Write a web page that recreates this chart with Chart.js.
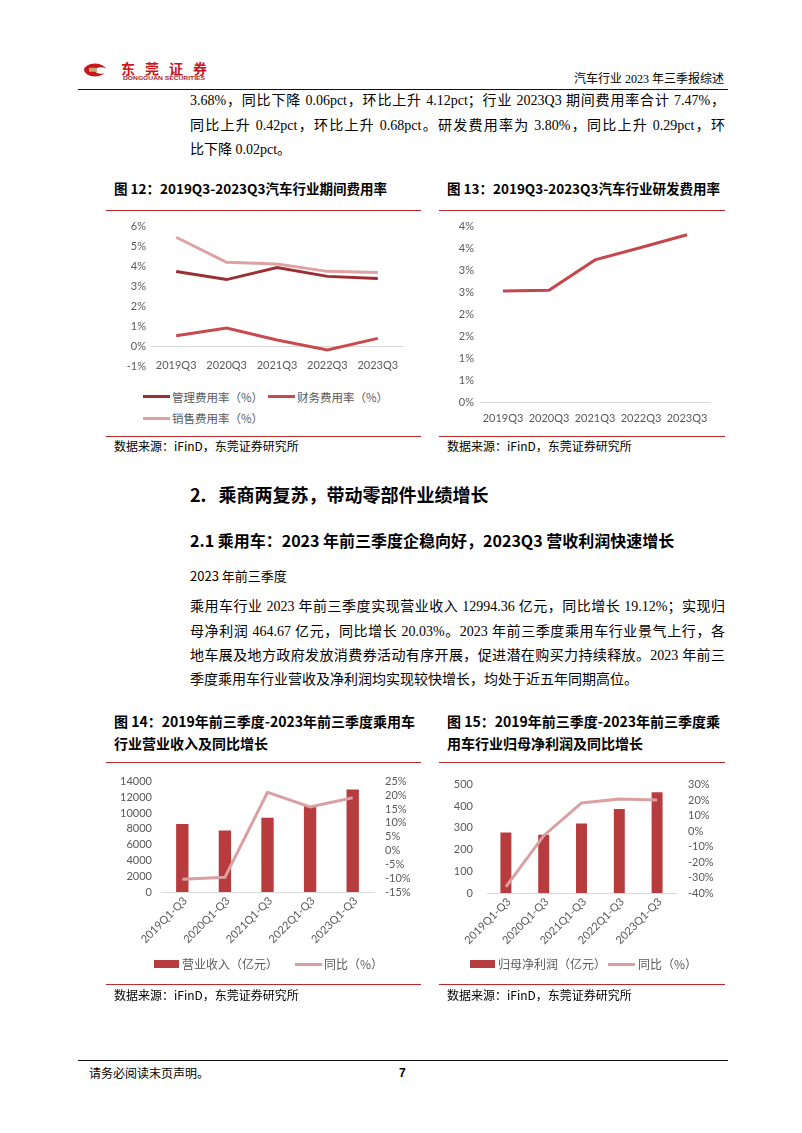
<!DOCTYPE html>
<html>
<head>
<meta charset="utf-8">
<script src="https://cdn.jsdelivr.net/npm/chart.js@4.4.0/dist/chart.umd.min.js"></script>
<style>
  body { margin: 0; background: #fff; }
  #page { position: relative; width: 802px; height: 1133px; overflow: hidden; color: #000;
          font-family: "Liberation Serif", "Noto Sans CJK SC", serif; }
  .abs { position: absolute; white-space: nowrap; }
  .line { left: 190px; width: 535px; font-size: 14px; line-height: 20px; }
  .just { text-align: justify; text-align-last: justify; }
  .cap { font-family: "Noto Sans CJK SC", sans-serif; font-weight: bold; font-size: 13.5px; line-height: 20px; }
  .src { font-family: "Noto Sans CJK SC", sans-serif; font-size: 12px; line-height: 16px; }
  .rule { position: absolute; height: 0; border-top: 1.5px solid #c0272d; }
  .blk { position: absolute; height: 0; border-top: 1.5px solid #111; }
  .leg { font-family: "Noto Sans CJK SC", sans-serif; font-size: 11.5px; line-height: 16px; color: #595959; }
  .sw { position: absolute; }
  canvas { position: absolute; }
</style>
</head>
<body>
<div id="page">

  <!-- header -->
  <svg class="abs" style="left:80px;top:58px" width="140" height="26">
    <ellipse cx="15" cy="12" rx="11" ry="6.5" fill="#c8161d"/>
    <ellipse cx="21" cy="12.5" rx="6" ry="3.2" fill="#fff"/>
    <rect x="9" y="9.8" width="8" height="4" fill="#c9a46c"/>
    <text x="41" y="16" font-family="Noto Sans CJK SC" font-weight="bold" font-size="14" fill="#c8161d"
          textLength="86" lengthAdjust="spacing">东莞证券</text>
    <text x="43" y="22" font-family="Liberation Sans" font-weight="bold" font-size="5" fill="#b0262b"
          textLength="82" lengthAdjust="spacingAndGlyphs">DONGGUAN SECURITIES</text>
  </svg>
  <div class="abs" style="right:78px;top:71px;font-size:12px;line-height:16px;">汽车行业 2023 年三季报综述</div>
  <div class="blk" style="left:78px;top:89px;width:650px;"></div>

  <!-- paragraph 1 -->
  <div class="abs line just" style="top:91px;">3.68%，同比下降 0.06pct，环比上升 4.12pct；行业 2023Q3 期间费用率合计 7.47%，</div>
  <div class="abs line just" style="top:116px;">同比上升 0.42pct，环比上升 0.68pct。研发费用率为 3.80%，同比上升 0.29pct，环</div>
  <div class="abs line" style="top:140px;">比下降 0.02pct。</div>

  <!-- figure 12 -->
  <div class="abs cap" style="left:114px;top:178px;">图 12：2019Q3-2023Q3汽车行业期间费用率</div>
  <div class="rule" style="left:106px;top:210px;width:315px;"></div>
  <canvas id="c12" width="315" height="163" style="left:106px;top:214px;"></canvas>
  <div class="sw" style="left:143px;top:395px;width:27px;height:3px;background:#9a2f33;"></div>
  <div class="abs leg" style="left:172px;top:389px;">管理费用率（%）</div>
  <div class="sw" style="left:268px;top:395px;width:27px;height:3px;background:#c84a4e;"></div>
  <div class="abs leg" style="left:297px;top:389px;">财务费用率（%）</div>
  <div class="sw" style="left:143px;top:417px;width:27px;height:3px;background:#dca2a4;"></div>
  <div class="abs leg" style="left:172px;top:410px;">销售费用率（%）</div>
  <div class="rule" style="left:106px;top:436px;width:315px;"></div>
  <div class="abs src" style="left:114px;top:438px;">数据来源：iFinD，东莞证券研究所</div>

  <!-- figure 13 -->
  <div class="abs cap" style="left:447px;top:178px;">图 13：2019Q3-2023Q3汽车行业研发费用率</div>
  <div class="rule" style="left:439px;top:210px;width:286px;"></div>
  <canvas id="c13" width="286" height="218" style="left:439px;top:214px;"></canvas>
  <div class="rule" style="left:439px;top:436px;width:286px;"></div>
  <div class="abs src" style="left:447px;top:438px;">数据来源：iFinD，东莞证券研究所</div>

  <!-- section -->
  <div class="abs cap" style="left:190px;top:483px;font-size:18px;line-height:22px;">2.<span style="margin-left:12px">乘商两复苏，带动零部件业绩增长</span></div>
  <div class="abs cap" style="left:190px;top:530px;font-size:16px;">2.1 乘用车：2023 年前三季度企稳向好，2023Q3 营收利润快速增长</div>
  <div class="abs" style="left:190px;top:566px;font-family:'Noto Sans CJK SC';font-size:13px;line-height:20px;">2023 年前三季度</div>

  <!-- paragraph 2 -->
  <div class="abs line just" style="top:597px;">乘用车行业 2023 年前三季度实现营业收入 12994.36 亿元，同比增长 19.12%；实现归</div>
  <div class="abs line just" style="top:622px;">母净利润 464.67 亿元，同比增长 20.03%。2023 年前三季度乘用车行业景气上行，各</div>
  <div class="abs line just" style="top:646px;">地车展及地方政府发放消费券活动有序开展，促进潜在购买力持续释放。2023 年前三</div>
  <div class="abs line" style="top:670px;">季度乘用车行业营收及净利润均实现较快增长，均处于近五年同期高位。</div>

  <!-- figure 14 -->
  <div class="abs cap" style="left:114px;top:710px;line-height:22px;font-size:14px;">图 14：2019年前三季度-2023年前三季度乘用车<br>行业营业收入及同比增长</div>
  <div class="rule" style="left:106px;top:762px;width:315px;"></div>
  <canvas id="c14" width="314" height="195" style="left:106px;top:765px;"></canvas>
  <div class="sw" style="left:154px;top:960px;width:25px;height:8px;background:#b83c3e;"></div>
  <div class="abs leg" style="left:182px;top:956px;font-size:12px;">营业收入（亿元）</div>
  <div class="sw" style="left:295px;top:963px;width:27px;height:3px;background:#daa0a1;"></div>
  <div class="abs leg" style="left:324px;top:956px;font-size:12px;">同比（%）</div>
  <div class="rule" style="left:106px;top:984px;width:315px;"></div>
  <div class="abs src" style="left:114px;top:987px;">数据来源：iFinD，东莞证券研究所</div>

  <!-- figure 15 -->
  <div class="abs cap" style="left:447px;top:710px;line-height:22px;font-size:14px;">图 15：2019年前三季度-2023年前三季度乘<br>用车行业归母净利润及同比增长</div>
  <div class="rule" style="left:439px;top:762px;width:286px;"></div>
  <canvas id="c15" width="286" height="195" style="left:439px;top:765px;"></canvas>
  <div class="sw" style="left:470px;top:960px;width:25px;height:8px;background:#b83c3e;"></div>
  <div class="abs leg" style="left:498px;top:956px;font-size:12px;">归母净利润（亿元）</div>
  <div class="sw" style="left:608px;top:963px;width:27px;height:3px;background:#daa0a1;"></div>
  <div class="abs leg" style="left:638px;top:956px;font-size:12px;">同比（%）</div>
  <div class="rule" style="left:439px;top:984px;width:286px;"></div>
  <div class="abs src" style="left:447px;top:987px;">数据来源：iFinD，东莞证券研究所</div>

  <!-- footer -->
  <div class="blk" style="left:78px;top:1060px;width:650px;"></div>
  <div class="abs" style="left:89px;top:1065px;font-family:'Noto Sans CJK SC';font-size:12px;line-height:16px;">请务必阅读末页声明。</div>
  <div class="abs" style="left:399px;top:1065px;font-family:'Liberation Sans';font-weight:bold;font-size:12px;line-height:16px;">7</div>
</div>

<script>
// quarterly expense ratios (%)
const quarterLabels = ["2019Q3", "2020Q3", "2021Q3", "2022Q3", "2023Q3"];
const mgmtRate = [3.73, 3.33, 3.93, 3.49, 3.38];
const financeRate = [0.53, 0.92, 0.32, -0.18, 0.40];
const salesRate = [5.44, 4.19, 4.11, 3.74, 3.68];
const rdRate = [2.52, 2.54, 3.23, 3.51, 3.80];

// first three quarters, passenger cars
const ytdLabels = ["2019Q1-Q3", "2020Q1-Q3", "2021Q1-Q3", "2022Q1-Q3", "2023Q1-Q3"];
const revenue = [8615, 7779, 9420, 10908, 12994.36];
const revenueYoy = [-10.4, -9.7, 21.1, 15.8, 19.12];
const netProfit = [279, 269, 320, 387, 464.67];
const netProfitYoy = [-36.1, -3.0, 18.1, 20.6, 20.03];

const tickColor = "#595959";
const tickFont = { family: "Lato", size: 11, lineHeight: 1 };
const axisLine = { display: true, color: "#d9d9d9", width: 1 };
const noGrid = { display: false, drawTicks: false };

Chart.defaults.animation = false;
Chart.defaults.plugins.legend.display = false;
Chart.defaults.plugins.tooltip.enabled = false;

function lineSet(label, data, color, axis) {
  return {
    type: "line", label, data, yAxisID: axis || "y",
    borderColor: color, backgroundColor: color,
    borderWidth: 3, pointRadius: 0, tension: 0, order: 0
  };
}

// fig 12
new Chart(document.getElementById("c12"), {
  type: "line",
  data: {
    labels: quarterLabels,
    datasets: [
      lineSet("销售费用率（%）", salesRate, "#dca2a4"),
      lineSet("管理费用率（%）", mgmtRate, "#9a2f33"),
      lineSet("财务费用率（%）", financeRate, "#c84a4e")
    ]
  },
  options: {
    responsive: false,
    layout: { padding: { left: 0, right: 18, top: 12, bottom: 6 } },
    scales: {
      x: {
        position: { y: 0 }, offset: true, grid: noGrid, border: axisLine,
        ticks: { padding: 14, color: tickColor, font: tickFont, maxRotation: 0 }
      },
      y: {
        min: -1, max: 6, grid: noGrid, border: { display: false },
        ticks: { stepSize: 1, padding: 5, autoSkip: false, color: tickColor, font: tickFont,
                 callback: v => v + "%" },
        afterFit: s => { s.width = 45; }
      }
    }
  }
});

// fig 13
new Chart(document.getElementById("c13"), {
  type: "line",
  data: {
    labels: quarterLabels,
    datasets: [lineSet("研发费用率", rdRate, "#c4474c")]
  },
  options: {
    responsive: false,
    layout: { padding: { left: 0, right: 15, top: 12, bottom: 0 } },
    scales: {
      x: {
        offset: true, grid: noGrid, border: axisLine,
        ticks: { padding: 11, color: tickColor, font: tickFont, maxRotation: 0 },
        afterFit: s => { s.height = 30; }
      },
      y: {
        min: 0, max: 4, grid: noGrid, border: { display: false },
        ticks: { stepSize: 0.5, padding: 6, autoSkip: false, color: tickColor, font: tickFont,
                 callback: v => Math.round(v) + "%" },
        afterFit: s => { s.width = 41; }
      }
    }
  }
});

function barLineChart(id, barLabel, bars, yoy, left, right, sizes) {
  return new Chart(document.getElementById(id), {
    type: "bar",
    data: {
      labels: ytdLabels,
      datasets: [
        lineSet("同比（%）", yoy, "#daa0a1", "y1"),
        {
          type: "bar", label: barLabel, data: bars, yAxisID: "y",
          backgroundColor: "#b83c3e", categoryPercentage: 1, barPercentage: 0.29, order: 1
        }
      ]
    },
    options: {
      responsive: false,
      layout: { padding: { left: 0, right: 0, top: 14, bottom: 0 } },
      scales: {
        x: {
          grid: noGrid, border: axisLine,
          ticks: { padding: 3, color: tickColor, font: tickFont, minRotation: 45, maxRotation: 45,
                   autoSkip: false, labelOffset: 3 },
          afterFit: s => { s.height = sizes.xh; }
        },
        y: {
          position: "left", min: left.min, max: left.max, grid: noGrid, border: { display: false },
          ticks: { stepSize: left.step, padding: sizes.lp, autoSkip: false, color: tickColor, font: tickFont,
                   callback: v => String(v) },
          afterFit: s => { s.width = sizes.lw; }
        },
        y1: {
          position: "right", min: right.min, max: right.max, grid: noGrid, border: { display: false },
          ticks: { stepSize: right.step, padding: sizes.rp, autoSkip: false, color: tickColor, font: tickFont,
                   callback: v => v + "%" },
          afterFit: s => { s.width = sizes.rw; }
        }
      }
    }
  });
}

// fig 14
barLineChart("c14", "营业收入（亿元）", revenue, revenueYoy,
  { min: 0, max: 14000, step: 2000 }, { min: -15, max: 25, step: 5 },
  { xh: 68, lw: 55, lp: 9, rw: 46, rp: 11 });

// fig 15
barLineChart("c15", "归母净利润（亿元）", netProfit, netProfitYoy,
  { min: 0, max: 500, step: 100 }, { min: -40, max: 30, step: 10 },
  { xh: 67, lw: 48, lp: 14, rw: 49, rp: 12 });
</script>
</body>
</html>
